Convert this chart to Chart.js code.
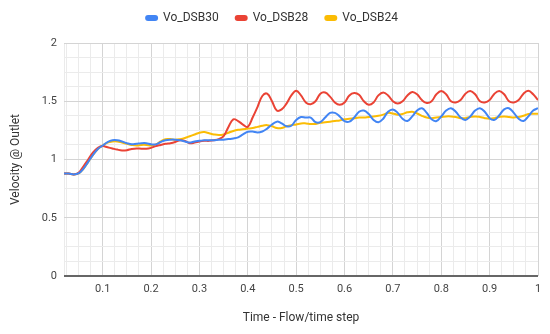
<!DOCTYPE html>
<html><head><meta charset="utf-8">
<script src="https://cdn.jsdelivr.net/npm/chart.js@4"></script>
<style>html,body{margin:0;padding:0;background:#fff;}canvas{display:block;}</style>
</head><body>
<canvas id="c" width="550" height="334"></canvas>
<script>
const timeSteps = [0.02,0.03,0.04,0.05,0.06,0.07,0.08,0.09,0.10,
0.11,0.12,0.13,0.14,0.15,0.16,0.17,0.18,0.19,0.20,
0.21,0.22,0.23,0.24,0.25,0.26,0.27,0.28,0.29,0.30,
0.31,0.32,0.33,0.34,0.35,0.36,0.37,0.38,0.39,0.40,
0.41,0.42,0.43,0.44,0.45,0.46,0.47,0.48,0.49,0.50,
0.51,0.52,0.53,0.54,0.55,0.56,0.57,0.58,0.59,0.60,
0.61,0.62,0.63,0.64,0.65,0.66,0.67,0.68,0.69,0.70,
0.71,0.72,0.73,0.74,0.75,0.76,0.77,0.78,0.79,0.80,
0.81,0.82,0.83,0.84,0.85,0.86,0.87,0.88,0.89,0.90,
0.91,0.92,0.93,0.94,0.95,0.96,0.97,0.98,0.99,1.00];

const voDSB30 = [0.88,0.88,0.872,0.88,0.92,0.98,1.04,1.09,1.12,
1.15,1.165,1.165,1.155,1.14,1.13,1.135,1.14,1.14,1.13,
1.13,1.15,1.165,1.17,1.17,1.165,1.155,1.145,1.155,1.16,
1.165,1.165,1.165,1.17,1.17,1.175,1.18,1.19,1.215,1.238,
1.24,1.232,1.24,1.265,1.30,1.325,1.31,1.285,1.29,1.34,
1.365,1.36,1.36,1.32,1.32,1.36,1.40,1.40,1.37,1.33,
1.325,1.36,1.41,1.42,1.39,1.34,1.32,1.35,1.41,1.43,
1.40,1.35,1.33,1.37,1.42,1.44,1.40,1.345,1.33,1.37,
1.42,1.44,1.41,1.36,1.34,1.37,1.42,1.44,1.41,1.355,
1.34,1.38,1.43,1.44,1.40,1.35,1.33,1.37,1.42,1.44];

const voDSB28 = [0.88,0.88,0.872,0.885,0.94,1.00,1.06,1.10,1.115,
1.105,1.095,1.085,1.078,1.08,1.09,1.095,1.093,1.092,1.10,
1.115,1.125,1.135,1.14,1.15,1.165,1.16,1.14,1.145,1.155,
1.16,1.16,1.165,1.175,1.20,1.28,1.345,1.33,1.30,1.28,
1.36,1.45,1.545,1.565,1.50,1.42,1.43,1.48,1.55,1.59,
1.55,1.49,1.475,1.50,1.565,1.575,1.54,1.49,1.47,1.49,
1.55,1.57,1.555,1.50,1.47,1.49,1.55,1.575,1.55,1.50,
1.48,1.50,1.55,1.58,1.56,1.51,1.485,1.50,1.56,1.588,
1.56,1.50,1.49,1.51,1.565,1.588,1.56,1.50,1.49,1.51,
1.565,1.588,1.56,1.50,1.49,1.51,1.565,1.59,1.56,1.51];

const voDSB24 = [0.88,0.88,0.872,0.88,0.92,0.98,1.04,1.09,1.12,
1.145,1.155,1.155,1.145,1.135,1.125,1.12,1.125,1.125,1.12,
1.13,1.155,1.175,1.175,1.17,1.175,1.185,1.20,1.215,1.23,
1.235,1.225,1.215,1.21,1.215,1.23,1.245,1.255,1.26,1.265,
1.27,1.28,1.29,1.295,1.285,1.27,1.27,1.285,1.295,1.30,
1.31,1.31,1.305,1.305,1.315,1.32,1.325,1.33,1.335,1.345,
1.35,1.355,1.36,1.36,1.365,1.37,1.375,1.385,1.40,1.395,
1.385,1.39,1.405,1.41,1.395,1.375,1.36,1.355,1.36,1.365,
1.37,1.37,1.365,1.355,1.355,1.365,1.37,1.365,1.355,1.35,
1.355,1.365,1.37,1.365,1.36,1.365,1.375,1.39,1.393,1.393];

const seriesNames = ['Vo_DSB30','Vo_DSB28','Vo_DSB24'];
const xTickLabels = ['0.1','0.2','0.3','0.4','0.5','0.6','0.7','0.8','0.9','1'];
const yTickLabels = ['0','0.5','1','1.5','2'];
const xAxisTitle = 'Time - Flow/time step';
const yAxisTitle = 'Velocity @ Outlet';

const colors = ['#4285F4','#EA4335','#FBBC04'];
function pts(arr){ return arr.map((v,i)=>({x:timeSteps[i], y:v})); }

const legendShift = {
  id:'legendShift',
  afterLayout(chart){
    const l = chart.legend;
    l.left += 3; l.right += 3;
    l.top -= 9; l.bottom -= 9;
  }
};

const FONT = 'Roboto, "Noto Sans", Arial, sans-serif';

new Chart(document.getElementById('c'), {
  type:'line',
  data:{
    datasets:[voDSB30, voDSB28, voDSB24].map((arr,i)=>({
      label: seriesNames[i],
      data: pts(arr),
      borderColor: colors[i],
      backgroundColor: colors[i],
      borderWidth: 2,
      pointRadius: 0,
      tension: 0.4,
      fill: false
    }))
  },
  options:{
    responsive:false,
    animation:false,
    devicePixelRatio:1,
    layout:{padding:{top:4,right:12,left:0,bottom:0}},
    plugins:{
      legend:{
        position:'top',
        align:'center',
        labels:{
          boxWidth:11, boxHeight:4, useBorderRadius:true, borderRadius:2,
          padding:17, color:'#333',
          font:{family:FONT, size:12}
        }
      },
      tooltip:{enabled:false}
    },
    scales:{
      x:{
        type:'linear', min:0.02, max:1,
        afterBuildTicks(scale){
          const t=[{value:0.02}];
          for(let i=1;i<=40;i++) t.push({value:i*0.025});
          scale.ticks=t;
        },
        afterFit(scale){ scale.height = 58; },
        border:{display:false},
        grid:{
          drawTicks:false,
          color(ctx){
            const v = ctx.tick ? ctx.tick.value : 0;
            const k = Math.round(v*1000);
            return (k % 100 === 0) ? '#d4d4d4' : '#ebebeb';
          }
        },
        ticks:{
          autoSkip:false, maxRotation:0, padding:7, color:'#444',
          font:{family:FONT, size:11},
          callback(v){
            const i = Math.round(v*10);
            return (Math.abs(v*10 - i) < 1e-6 && i>=1) ? xTickLabels[i-1] : '';
          }
        },
        title:{display:true, text:xAxisTitle, color:'#333', font:{family:FONT,size:12}, padding:{top:4,bottom:9}}
      },
      y:{
        min:0, max:2,
        ticks:{
          stepSize:0.125, autoSkip:false, padding:7, color:'#444',
          font:{family:FONT, size:11},
          callback(v){
            const i = Math.round(v*2);
            return (Math.abs(v*2 - i) < 1e-6) ? yTickLabels[i] : '';
          }
        },
        afterFit(scale){ scale.width = 64; },
        border:{display:false},
        grid:{
          drawTicks:false,
          lineWidth(ctx){
            const v = ctx.tick ? ctx.tick.value : 0;
            return Math.abs(v) < 1e-6 ? 2 : 1;
          },
          color(ctx){
            const v = ctx.tick ? ctx.tick.value : 0;
            if (Math.abs(v) < 1e-6) return '#666';
            const k = Math.round(v*1000);
            return (k % 500 === 0) ? '#d4d4d4' : '#ebebeb';
          }
        },
        title:{display:true, text:yAxisTitle, color:'#333', font:{family:FONT,size:12}, padding:{top:9,bottom:0}}
      }
    }
  },
  plugins:[legendShift]
});
</script>
</body></html>
